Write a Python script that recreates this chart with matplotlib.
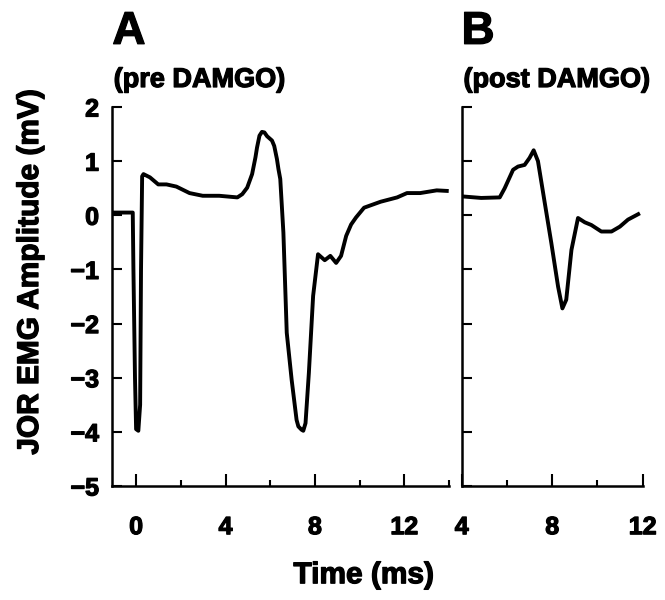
import matplotlib.pyplot as plt
import matplotlib.patheffects as pe
import numpy as np

plt.rcParams['font.family'] = ['Liberation Sans', 'DejaVu Sans']
plt.rcParams['font.weight'] = 'bold'

# pre DAMGO trace (ms, mV)
t_pre = [-1.0, -0.15, -0.12, -0.05, 0.0, 0.1, 0.18, 0.22, 0.27, 0.33, 0.62, 0.99,
         1.36, 1.8, 2.39, 2.98, 3.72, 4.53, 4.75, 4.97, 5.19, 5.34, 5.41, 5.52,
         5.63, 5.74, 5.86, 6.08, 6.18, 6.30, 6.37, 6.45, 6.59, 6.74, 6.96, 7.18,
         7.26, 7.40, 7.48, 7.58, 7.73, 7.92, 8.14, 8.44, 8.69, 8.95, 9.17, 9.40,
         9.62, 9.84, 10.2, 10.94, 11.68, 12.12, 12.71, 13.45, 13.9]
v_pre = [0.05, 0.05, -1.0, -3.0, -3.95, -3.98, -3.5, -1.0, 0.72, 0.76, 0.70, 0.57,
         0.57, 0.53, 0.41, 0.36, 0.36, 0.33, 0.39, 0.51, 0.76, 1.07, 1.25, 1.47,
         1.54, 1.53, 1.46, 1.38, 1.28, 1.04, 0.85, 0.67, -0.32, -2.17, -3.04, -3.78,
         -3.9, -3.96, -3.98, -3.84, -2.91, -1.49, -0.72, -0.83, -0.75, -0.88, -0.75,
         -0.38, -0.17, -0.04, 0.14, 0.25, 0.33, 0.41, 0.41, 0.46, 0.45]

# post DAMGO trace (ms, mV)
t_post = [3.98, 4.86, 5.68, 5.9, 6.27, 6.49, 6.78, 7.0, 7.18, 7.37, 7.67, 7.96,
          8.26, 8.45, 8.62, 8.85, 9.14, 9.44, 9.73, 10.17, 10.62, 10.99, 11.35, 11.8]
v_post = [0.35, 0.32, 0.33, 0.50, 0.84, 0.90, 0.93, 1.06, 1.20, 1.0, 0.23, -0.51,
          -1.32, -1.72, -1.56, -0.64, -0.05, -0.13, -0.18, -0.30, -0.30, -0.21,
          -0.08, 0.02]

yticks = [-5, -4, -3, -2, -1, 0, 1, 2]

# heavier lettering
heavy = [pe.withStroke(linewidth=0.9, foreground='black')]

fig = plt.figure(figsize=(6.65, 6.0), dpi=100)
axA = fig.add_axes([0.1677, 0.19, 0.5075, 0.6317])
axB = fig.add_axes([0.6943, 0.19, 0.2722, 0.6317])


def style(ax):
    for s in ['top', 'right']:
        ax.spines[s].set_visible(False)
    for s in ['left', 'bottom']:
        ax.spines[s].set_linewidth(1.8)
    ax.set_ylim(-5, 2)
    ax.set_yticks(yticks)
    ax.tick_params(axis='y', direction='in', length=7, width=1.5, pad=9,
                   labelsize=18)
    ax.tick_params(axis='x', which='major', direction='in', length=9, width=1.5,
                   pad=21, labelsize=18)
    ax.tick_params(axis='x', which='minor', direction='in', length=4.5, width=1.5)
    for lab in ax.get_xticklabels() + ax.get_yticklabels():
        lab.set_path_effects(heavy)


axA.plot(t_pre, v_pre, color='black', lw=2.8, solid_joinstyle='round')
axA.set_xlim(-1.1, 14)
axA.set_xticks([0, 4, 8, 12])
axA.set_xticks([2, 6, 10, 14], minor=True)
style(axA)
axA.set_ylabel('JOR EMG Amplitude (mV)', fontsize=21.5, fontweight='bold',
               path_effects=heavy)
axA.yaxis.set_label_coords(-0.2, 0.565)

axB.plot(t_post, v_post, color='black', lw=2.8, solid_joinstyle='round')
axB.set_xlim(4, 12)
axB.set_xticks([4, 8, 12])
axB.set_xticks([6, 10], minor=True)
style(axB)
axB.tick_params(axis='y', labelleft=False)

fig.text(0.169, 0.927, 'A', fontsize=33, fontweight='bold', path_effects=heavy)
fig.text(0.694, 0.927, 'B', fontsize=33, fontweight='bold', path_effects=heavy)
fig.text(0.171, 0.855, '(pre DAMGO)', fontsize=19.5, fontweight='bold',
         path_effects=heavy)
fig.text(0.697, 0.855, '(post DAMGO)', fontsize=19.5, fontweight='bold',
         path_effects=heavy)
fig.text(0.547, 0.028, 'Time (ms)', fontsize=21.5, fontweight='bold', ha='center',
         path_effects=heavy)

fig.savefig('out.png', dpi=100)
